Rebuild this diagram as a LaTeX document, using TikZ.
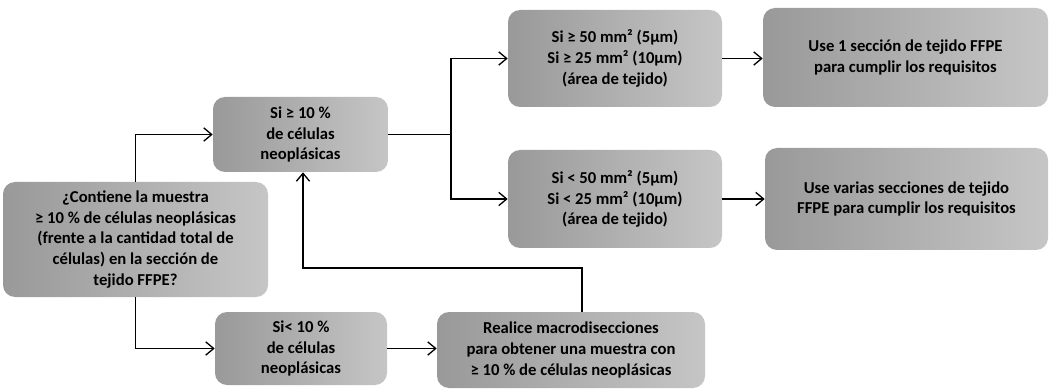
\documentclass[tikz,border=0pt]{standalone}
\usepackage{fontspec}
\setmainfont{Carlito}
\usetikzlibrary{arrows.meta,calc}
\begin{document}
\begin{tikzpicture}[x=0.75pt,y=-0.75pt,
  box/.style={rounded corners=9pt, left color=gray!80, right color=gray!45, draw=none,
    align=center, inner sep=2pt, font=\bfseries\fontsize{12.5}{15.5}\selectfont},
  arr/.style={line width=1pt, -{Straight Barb[length=6pt,width=10pt,line width=1pt]}},
  ln/.style={line width=1pt}]
\useasboundingbox (0,0) rectangle (1050,392);
\node[box, minimum width=265*0.75pt, minimum height=115*0.75pt] (A) at (135.5,239.5)
  {¿Contiene la muestra\\ ≥ 10 \% de células neoplásicas\\ (frente a la cantidad total de\\ células) en la sección de\\ tejido FFPE?};
\node[box, minimum width=175*0.75pt, minimum height=75*0.75pt] (B) at (300.5,134.5)
  {Si ≥ 10 \%\\ de células\\ neoplásicas};
\node[box, minimum width=214*0.75pt, minimum height=97*0.75pt] (C) at (615,58.5)
  {Si ≥ 50 mm² (5µm)\\ Si ≥ 25 mm² (10µm)\\ (área de tejido)};
\node[box, minimum width=214*0.75pt, minimum height=98*0.75pt] (D) at (615,199)
  {Si < 50 mm² (5µm)\\ Si < 25 mm² (10µm)\\ (área de tejido)};
\node[box, minimum width=285*0.75pt, minimum height=99*0.75pt] (E) at (905.5,57.5)
  {Use 1 sección de tejido FFPE\\ para cumplir los requisitos};
\node[box, minimum width=283*0.75pt, minimum height=102*0.75pt] (F) at (906.5,199)
  {Use varias secciones de tejido\\ FFPE para cumplir los requisitos};
\node[box, minimum width=172*0.75pt, minimum height=73*0.75pt] (G) at (301,348.5)
  {Si< 10 \%\\ de células\\ neoplásicas};
\node[box, minimum width=268*0.75pt, minimum height=76*0.75pt] (H) at (571,350)
  {Realice macrodisecciones\\ para obtener una muestra con\\ ≥ 10 \% de células neoplásicas};
\coordinate (split) at (451,134.5);
\coordinate (fb1) at (582,268);
\coordinate (fb2) at (303,268);
\draw[arr] (A.north) |- (B.west);
\draw[arr] (A.south) |- (G.west);
\draw[ln] (B.east) -- (split);
\draw[arr] (split) |- (C.west);
\draw[arr] (split) |- (D.west);
\draw[arr] (C.east) -- (E.west |- C.east);
\draw[arr] (D.east) -- (F.west |- D.east);
\draw[arr] (G.east) -- (H.west |- G.east);
\draw[arr] (H.north -| fb1) -- (fb1) -- (fb2) -- (fb2 |- B.south);
\end{tikzpicture}
\end{document}
